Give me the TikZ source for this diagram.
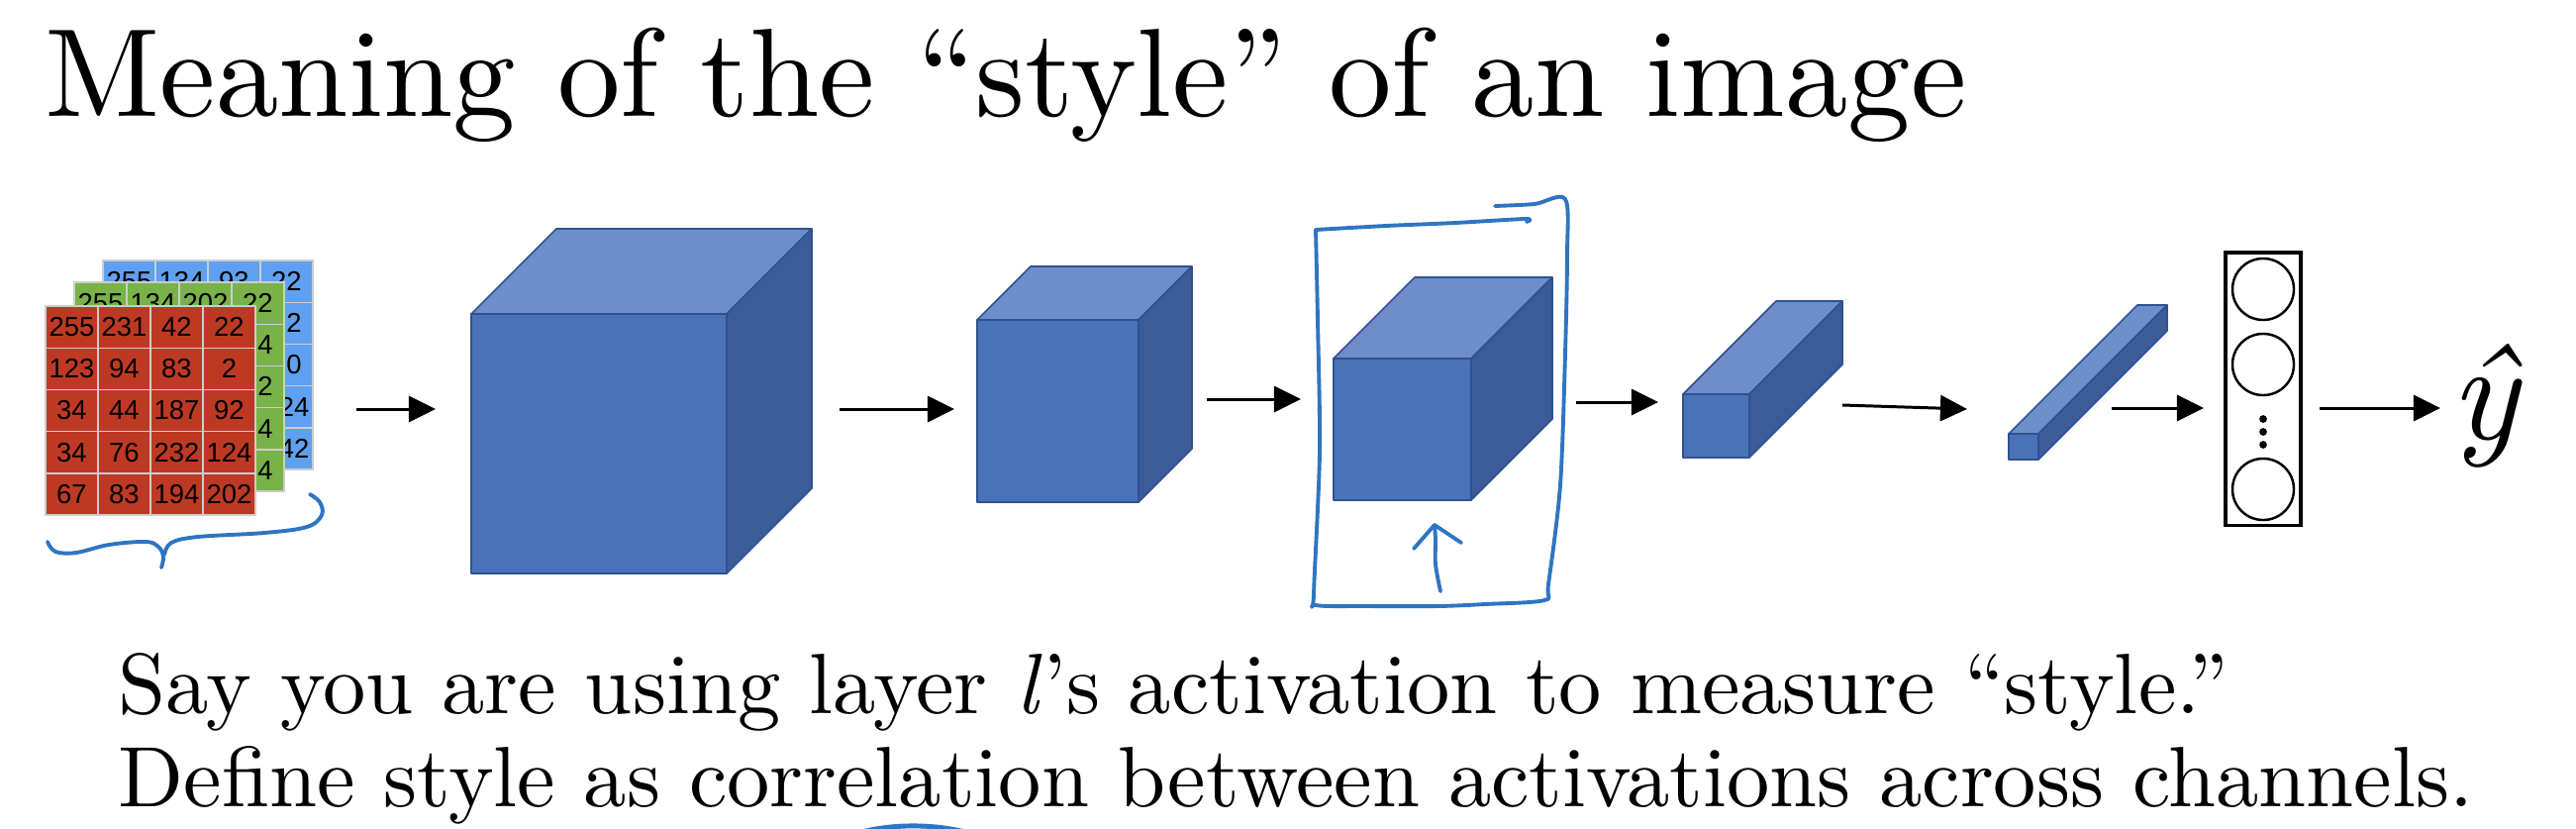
\documentclass[tikz,border=0pt]{standalone}
\usepackage{fontspec}
\setmainfont{lmroman10-regular.otf}[ItalicFont=lmroman10-italic.otf]
\newfontfamily\numfont{Liberation Sans}
\usetikzlibrary{arrows.meta}
\definecolor{cfront}{RGB}{74,114,185}
\definecolor{ctop}{RGB}{111,142,201}
\definecolor{cside}{RGB}{60,91,153}
\definecolor{cedge}{RGB}{47,82,143}
\definecolor{cred}{RGB}{190,57,36}
\definecolor{cgreen}{RGB}{120,178,72}
\definecolor{cblue}{RGB}{95,160,240}
\definecolor{cgrid}{RGB}{205,205,205}
\definecolor{pen}{RGB}{46,117,194}
\tikzset{
  face/.style={draw=cedge, line width=0.45pt, line join=round},
  arr/.style={line width=0.85pt, -{Triangle[length=7.7pt,width=7.4pt]}},
  ink/.style={draw=pen, line width=1.1pt, line cap=round, line join=round},
  cell/.style={font=\numfont\fontsize{7.8}{8}\selectfont, inner sep=0, anchor=center},
  txt/.style={anchor=base west, inner sep=0},
  neuron/.style={circle, draw, line width=0.7pt, minimum size=0.62cm, inner sep=0},
}
\newcommand\mycube[5]{%
  \filldraw[face, fill=cfront] (#1,#2) rectangle ++(#3,#4);
  \filldraw[face, fill=ctop] (#1,#2) -- ++(#5,-#5) -- ++(#3,0) -- ++(-#5,#5) -- cycle;
  \filldraw[face, fill=cside] (#1+#3,#2) -- ++(#5,-#5) -- ++(0,#4) -- ++(-#5,#5) -- cycle;
}
% grid background and lines
\newcommand\mygridbg[3]{%
  \fill[#3] (#1,#2) rectangle ++(212,211);
  \foreach \k in {1,2,3} \draw[cgrid, line width=0.4pt] (#1+53*\k,#2) -- ++(0,211);
  \foreach \k in {1,2,3,4} \draw[cgrid, line width=0.4pt] (#1,#2+42.2*\k) -- ++(212,0);
  \draw[cgrid, line width=0.4pt] (#1,#2) rectangle ++(212,211);
}
% one number cell: x0 y0 col row name text
\newcommand\mycell[6]{\node[cell] (#5) at (#1+26.5+53*#3,#2+21.1+42.2*#4) {#6};}
\begin{document}
\begin{tikzpicture}[x=0.01cm, y=-0.01cm]
\useasboundingbox (0,0) rectangle (2602,836);
\fill[white] (0,0) rectangle (2602,836);

% title
\node[txt, font=\fontsize{36.05}{44}\selectfont] (title) at (45,117) {Meaning of the “style” of an image};

% input image stack: blue (back)
\mygridbg{104}{263}{cblue}
\mycell{104}{263}{0}{0}{B00}{255}
\mycell{104}{263}{1}{0}{B01}{134}
\mycell{104}{263}{2}{0}{B02}{93}
\mycell{104}{263}{3}{0}{B03}{22}
\mycell{104}{263}{3}{1}{B13}{22}
\mycell{104}{263}{3}{2}{B23}{30}
\mycell{104}{263}{3}{3}{B33}{124}
\mycell{104}{263}{3}{4}{B43}{142}
% green (middle)
\mygridbg{75}{285}{cgreen}
\mycell{75}{285}{0}{0}{G00}{255}
\mycell{75}{285}{1}{0}{G01}{134}
\mycell{75}{285}{2}{0}{G02}{202}
\mycell{75}{285}{3}{0}{G03}{22}
\mycell{75}{285}{3}{1}{G13}{94}
\mycell{75}{285}{3}{2}{G23}{92}
\mycell{75}{285}{3}{3}{G33}{34}
\mycell{75}{285}{3}{4}{G43}{94}
% red (front)
\mygridbg{46}{309}{cred}
\foreach \a/\b/\c/\d [count=\i from 0] in {255/231/42/22, 123/94/83/2, 34/44/187/92, 34/76/232/124, 67/83/194/202} {
  \mycell{46}{309}{0}{\i}{R\i0}{\a}
  \mycell{46}{309}{1}{\i}{R\i1}{\b}
  \mycell{46}{309}{2}{\i}{R\i2}{\c}
  \mycell{46}{309}{3}{\i}{R\i3}{\d}
}

% cubes
\mycube{476}{317}{258}{262}{86}
\mycube{987}{323}{163}{184}{54}
\mycube{1347}{362}{139}{143}{82}
\mycube{1700}{398}{67}{64}{94}
\mycube{2029}{438}{30}{26}{130}

% output vector
\node[draw, line width=0.9pt, minimum width=0.76cm, minimum height=2.75cm, inner sep=0] (vec) at (2286,392.5) {};
\node[neuron] (n1) at (2286,292) {};
\node[neuron] (n2) at (2286,368) {};
\node[neuron] (n3) at (2286,494) {};
\fill (2286,423) circle (1.1pt);
\fill (2286,436) circle (1.1pt);
\fill (2286,449) circle (1.1pt);

\node[anchor=base, inner sep=0, font=\fontsize{40}{42}\selectfont\itshape] (yhat) at (2510,443) {ŷ};

% arrows
\coordinate (a1s) at (360,413);  \coordinate (a1e) at (440,413);
\coordinate (a2s) at (848,413);  \coordinate (a2e) at (964,413);
\coordinate (a3s) at (1219,403); \coordinate (a3e) at (1314,403);
\coordinate (a4s) at (1592,406); \coordinate (a4e) at (1675,406);
\coordinate (a5s) at (1861,409); \coordinate (a5e) at (1987,413);
\coordinate (a6s) at (2133,412); \coordinate (a6e) at (2226,412);
\coordinate (a7s) at (2343,412); \coordinate (a7e) at (2465,412);
\foreach \i in {1,...,7} \draw[arr] (a\i s) -- (a\i e);

% hand-drawn brace
\draw[ink] plot[smooth, tension=0.6] coordinates {(48,547) (56,557) (77,558) (110,550) (147,547) (160,552) (165,562) (163,573)};
\draw[ink] plot[smooth, tension=0.6] coordinates {(166,560) (173,548) (200,542) (267,538) (310,532) (325,520) (323,507) (313,499)};

% hand-drawn box around layer l
\draw[ink] plot[smooth, tension=0.5] coordinates {(1329,232) (1400,228) (1470,225) (1541,221) (1542,224)};
\draw[ink] plot[smooth, tension=0.5] coordinates {(1510,208) (1550,206) (1581,201) (1583,257) (1581,357) (1576,490) (1564,590) (1560,606) (1500,610) (1453,612) (1380,612) (1329,611) (1327,600) (1333,457) (1331,323) (1329,232)};
% up arrow
\draw[ink] plot[smooth, tension=0.5] coordinates {(1455,597) (1450,570) (1450,545) (1449,530)};
\draw[ink] (1428,554) -- (1449,530) -- (1476,548);

% bottom stroke
\draw[ink, line width=1.4pt] (845,850) .. controls (880,830) and (950,829) .. (990,845);

% text
\node[txt, font=\fontsize{24.6}{27}\selectfont] (line1) at (119,720) {Say you are using layer \textit{l}’s activation to measure “style.”};
\node[txt, font=\fontsize{24.6}{27}\selectfont] (line2) at (119,814) {Define style as correlation between activations across channels.};
\end{tikzpicture}
\end{document}
